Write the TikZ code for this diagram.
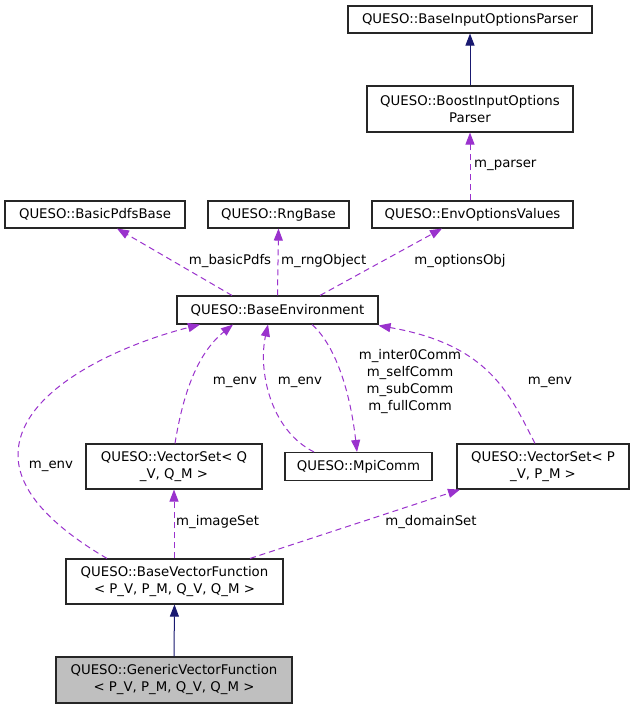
\documentclass[tikz,border=0pt]{standalone}
\usepackage{fontspec}
\setmainfont{DejaVu Sans}
\usetikzlibrary{arrows.meta}
\definecolor{edgepurple}{HTML}{9A32CD}
\definecolor{inhnavy}{HTML}{191970}
\definecolor{boxgrey}{HTML}{BFBFBF}
\begin{document}
\begin{tikzpicture}[x=1pt,y=-1pt,
  font=\fontsize{13.3}{17}\selectfont,
  cls/.style={draw=black!85, line width=1.1pt, rectangle, inner sep=0pt, align=center, fill=white},
  dep/.style={edgepurple, line width=1pt, dash pattern=on 6pt off 4pt, -{Triangle[length=12pt,width=9pt]}},
  inh/.style={inhnavy, line width=1pt, -{Triangle[length=12pt,width=9pt]}},
  lbl/.style={inner sep=0pt, align=center}]
\useasboundingbox[fill=white] (0,0) rectangle (633,709);

% classes
\node[cls, minimum width=244pt, minimum height=27pt] (bip) at (470,19.5) {QUESO::BaseInputOptionsParser};
\node[cls, minimum width=206pt, minimum height=46pt] (boost) at (470,109) {QUESO::BoostInputOptions\\Parser};
\node[cls, minimum width=180pt, minimum height=27pt] (pdfs) at (95,214.5) {QUESO::BasicPdfsBase};
\node[cls, minimum width=141pt, minimum height=27pt] (rng) at (278.5,214.5) {QUESO::RngBase};
\node[cls, minimum width=201pt, minimum height=27pt] (envopt) at (472.5,214.5) {QUESO::EnvOptionsValues};
\node[cls, minimum width=201pt, minimum height=28pt] (env) at (277.5,310) {QUESO::BaseEnvironment};
\node[cls, minimum width=176pt, minimum height=45pt] (vsq) at (174,466.5) {QUESO::VectorSet< Q\\\_V, Q\_M >};
\node[cls, minimum width=147pt, minimum height=28pt] (mpi) at (358.5,466.5) {QUESO::MpiComm};
\node[cls, minimum width=172pt, minimum height=45pt] (vsp) at (543,466.5) {QUESO::VectorSet< P\\\_V, P\_M >};
\node[cls, minimum width=217pt, minimum height=45pt] (bvf) at (174.5,581.5) {QUESO::BaseVectorFunction\\< P\_V, P\_M, Q\_V, Q\_M >};
\node[cls, minimum width=236pt, minimum height=46pt, fill=boxgrey] (gen) at (174,680) {QUESO::GenericVectorFunction\\< P\_V, P\_M, Q\_V, Q\_M >};

% inheritance
\draw[inh] (gen.north) -- (bvf.south);
\draw[inh] (boost.north) -- (bip.south);

% usage relations
\draw[dep] ([xshift=-2.5pt]envopt.north) -- (boost.south);
\node[lbl, anchor=west] (lparser) at (474,165) {m\_parser};

\draw[dep] ([xshift=-45.5pt]env.north) -- ([xshift=22pt]pdfs.south);
\node[lbl] (lpdfs) at (230,261) {m\_basicPdfs};

\draw[dep] (env.north) -- (rng.south);
\node[lbl, anchor=west] (lrng) at (281,261) {m\_rngObject};

\draw[dep] ([xshift=42.5pt]env.north) -- ([xshift=-30.5pt]envopt.south);
\node[lbl] (lopt) at (460,261) {m\_optionsObj};

\draw[dep] ([xshift=-67.5pt]bvf.north) .. controls (50,525) and (18,490) .. (18,455)
  .. controls (18,390) and (120,345) .. ([xshift=-77.5pt]env.south);
\node[lbl] (lenv1) at (51,466) {m\_env};

\draw[dep] ([xshift=1pt]vsq.north) .. controls (182,400) and (195,355) .. ([xshift=-44.5pt]env.south);
\node[lbl] (lenv2) at (235,382) {m\_env};

\draw[dep] ([xshift=-44.5pt]mpi.north) .. controls (270,430) and (258,370) .. ([xshift=-9.5pt]env.south);
\node[lbl] (lenv3) at (300,382) {m\_env};

\draw[dep] ([xshift=34.5pt]env.south) .. controls (335,345) and (350,390) .. ([xshift=-1.5pt]mpi.north);
\node[lbl] (lcomm) at (410,382) {m\_inter0Comm\\m\_selfComm\\m\_subComm\\m\_fullComm};

\draw[dep] ([xshift=-8pt]vsp.north) .. controls (510,395) and (490,345) .. ([yshift=-1pt]env.south east);
\node[lbl] (lenv4) at (550,382) {m\_env};

\draw[dep] ([xshift=-0.5pt]bvf.north) -- (vsq.south);
\node[lbl, anchor=west] (limg) at (176,522) {m\_imageSet};

\draw[dep] ([xshift=75.5pt]bvf.north) -- ([xshift=-83pt]vsp.south);
\node[lbl] (ldom) at (431,522) {m\_domainSet};
\end{tikzpicture}
\end{document}
